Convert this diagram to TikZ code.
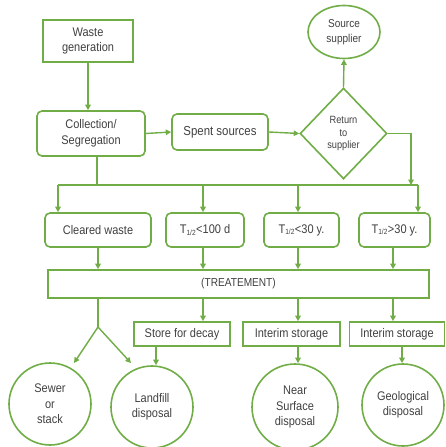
\documentclass[tikz,border=0pt]{standalone}
\usepackage{fontspec}
\setmainfont[FakeStretch=0.88]{Liberation Sans}
\usetikzlibrary{shapes.geometric,arrows.meta}
\definecolor{lg}{HTML}{70AD47}
\definecolor{tx}{HTML}{404040}
\tikzset{
  base/.style={draw=lg,line width=1.6pt,text=tx,align=center,inner sep=1pt,font=\fontsize{12.5}{15.5}\selectfont},
  sbox/.style={base,rectangle},
  rbox/.style={base,rectangle,rounded corners=5pt},
  circ/.style={base,circle},
  conn/.style={draw=lg,line width=1.4pt},
  arr/.style={conn,-{Triangle[length=5.5pt,width=5.5pt]}},
}
\newcommand{\halft}{T\textsubscript{\fontsize{7.5}{7.5}\selectfont 1/2}}
\begin{document}
\begin{tikzpicture}[x=1pt,y=-1pt]
\useasboundingbox (0,0) rectangle (446,447);
% top
\node[sbox,minimum width=90pt,minimum height=42pt] (wg) at (88,41) {Waste\\generation};
\node[base,ellipse,minimum width=72pt,minimum height=53pt,inner sep=0pt,font=\fontsize{11.4}{15}\selectfont] (ss) at (344,32) {Source\\supplier};
\node[rbox,minimum width=108pt,minimum height=45pt] (col) at (91,133.5) {Collection/\\Segregation};
\node[rbox,minimum width=96pt,minimum height=36pt,font=\fontsize{13}{14}\selectfont] (sp) at (220,132) {Spent sources};
\node[base,diamond,minimum width=87pt,minimum height=91pt,inner sep=0pt,font=\fontsize{10.5}{12.5}\selectfont] (dia) at (343.5,133.5) {Return\\to\\supplier};
\draw[arr] (wg.south) -- (wg.south |- col.north);
\draw[arr] (col.east) -- (sp.west);
\draw[arr] (sp.east) -- (dia.west);
\draw[arr] (dia.north) -- (ss.south);
% bus
\coordinate (b1) at (58,185);
\coordinate (b2) at (203,185);
\coordinate (b3) at (298,185);
\coordinate (b4) at (418,185);
\coordinate (dj) at (411,185);
\draw[conn] ([xshift=6pt]col.south) -- ([xshift=6pt]col.south |- b1);
\draw[conn] (b1) -- (b4);
\draw[arr] (dia.east) -| (dj);
% row 2
\node[rbox,minimum width=106pt,minimum height=34pt] (cw) at (98,230) {Cleared waste};
\node[rbox,minimum width=78pt,minimum height=34pt] (t1) at (205,230) {\halft<100 d};
\node[rbox,minimum width=75pt,minimum height=34pt] (t2) at (301.5,230) {\halft<30 y.};
\node[rbox,minimum width=71pt,minimum height=34pt] (t3) at (394.5,230) {\halft>30 y.};
\draw[arr] (b1) -- (b1 |- cw.north);
\draw[arr] (b2) -- (b2 |- t1.north);
\draw[arr] (b3) -- (b3 |- t2.north);
\draw[arr] (b4) -- (b4 |- t3.north);
% treatment
\node[sbox,minimum width=381pt,minimum height=28pt,font=\fontsize{11.5}{12}\selectfont] (trt) at (238.5,284) {(TREATEMENT)};
\draw[arr] (cw.south) -- (cw.south |- trt.north);
\draw[arr] ([xshift=-2pt]t1.south) -- ([xshift=-2pt]t1.south |- trt.north);
\draw[arr] ([xshift=-3.5pt]t2.south) -- ([xshift=-3.5pt]t2.south |- trt.north);
\draw[arr] ([xshift=-1.5pt]t3.south) -- ([xshift=-1.5pt]t3.south |- trt.north);
% bottom boxes
\node[sbox,minimum width=96pt,minimum height=24pt] (sfd) at (182,334) {Store for decay};
\node[sbox,minimum width=97pt,minimum height=24pt] (is1) at (291.5,334) {Interim storage};
\node[sbox,minimum width=95pt,minimum height=24pt] (is2) at (397,334) {Interim storage};
\coordinate (c2) at (203,298);
\coordinate (c3) at (298,298);
\coordinate (c4) at (393,298);
\draw[arr] (c2) -- (c2 |- sfd.north);
\draw[arr] (c3) -- (c3 |- is1.north);
\draw[arr] (c4) -- (c4 |- is2.north);
% circles
\node[circ,minimum size=82pt] (sew) at (50,404) {Sewer\\or\\stack};
\node[circ,minimum size=82pt] (lf) at (152,407) {Landfill\\disposal};
\node[circ,minimum size=86pt] (ns) at (295,407) {Near\\Surface\\disposal};
\node[circ,minimum size=82pt] (geo) at (403,405) {Geological\\disposal};
\coordinate (br) at (98,327);
\coordinate (e1) at (74,363);
\coordinate (e2) at (131,363);
\draw[conn] (br |- trt.south) -- (br);
\draw[arr] (br) -- (e1);
\draw[arr] (br) -- (e2);
\draw[arr] ([xshift=-26pt]sfd.south) -- ([xshift=-26pt]sfd.south |- lf.north);
\draw[arr] ([xshift=6.5pt]is1.south) -- ([xshift=6.5pt]is1.south |- ns.north);
\draw[arr] ([xshift=5pt]is2.south) -- ([xshift=5pt]is2.south |- geo.north);
\end{tikzpicture}
\end{document}
